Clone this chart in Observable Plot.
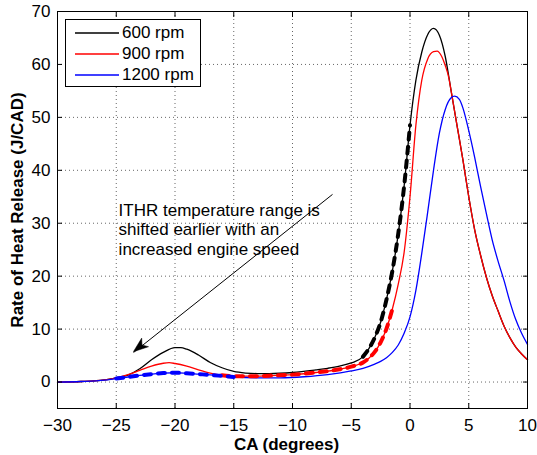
<!DOCTYPE html>
<html>
<head>
<meta charset="utf-8">
<script src="https://cdn.jsdelivr.net/npm/d3@7"></script>
<script src="https://cdn.jsdelivr.net/npm/@observablehq/plot@0.6"></script>
<style>
html,body{margin:0;padding:0;background:#fff;}
#wrap{position:relative;width:537px;height:455px;font-family:"Liberation Sans",Arial,Helvetica,sans-serif;}
#legend{position:absolute;left:65px;top:19px;width:134px;height:66px;border:1px solid #000;background:#fff;}
.lg-row{position:absolute;left:0;width:134px;height:20px;line-height:20px;font-size:17px;color:#000;white-space:nowrap;}
.lg-row svg{position:absolute;left:9px;top:9px;}
.lg-row span{position:absolute;left:56px;top:0;}
</style>
</head>
<body>
<div id="wrap"><div id="legend"></div></div>
<script>
// ---- data ----
const seriesNames = ["600 rpm", "900 rpm", "1200 rpm"];
const seriesColors = ["#000000", "#ff0000", "#0000ff"];

const ca600  = [-30,-28,-26,-25,-24,-23,-22,-21,-20,-19.5,-19,-18,-17,-16,-15,-14,-13,-12,-10,-8,-7,-6,-5,-4,-3.5,-3,-2.5,-2,-1.5,-1,-0.5,0,0.5,1,1.5,2,2.5,3,3.5,4,4.5,5,5.5,6,6.5,7,7.5,8,8.5,9,9.5,10];
const rhr600 = [0,0.1,0.4,0.8,1.3,2.5,4.2,5.6,6.5,6.5,6.2,5.1,3.7,2.7,2.0,1.7,1.6,1.6,1.8,2.3,2.6,3.0,3.6,4.8,6.3,8.4,11.3,15.6,21,28,37,48.5,57,62.3,65.6,66.8,65.5,61.5,55,48.5,42,35,28.8,24,19.8,16.3,13.4,10.6,8.4,6.6,5.3,4.2];

const ca900  = [-30,-28,-26,-25,-24,-23,-22,-21,-20.5,-20,-19,-18,-17,-16,-15,-13,-12,-10,-8,-6,-5,-4,-3.5,-3,-2.5,-2,-1.5,-1,-0.5,0,0.5,1,1.5,2,2.3,2.7,3,3.3,3.5,4,4.5,5,5.5,6,6.5,7,7.5,8,8.5,9,9.5,10];
const rhr900 = [0,0.1,0.4,0.8,1.4,2.2,3.0,3.55,3.65,3.5,3.0,2.3,1.7,1.3,1.1,1.1,1.2,1.4,1.8,2.4,2.9,3.7,4.5,5.7,7.5,10.1,13.8,18.5,24.5,35,48.5,57,61,62.4,62.5,61.5,59.8,57.5,55,48.5,42,35,28.8,24,19.8,16.3,13.4,10.6,8.4,6.6,5.3,4.2];

const ca1200  = [-30,-28,-26,-25,-24,-23,-22,-21,-20,-19,-18,-17,-16,-15,-13,-11,-9,-7,-5,-4,-3,-2.5,-2,-1.5,-1,-0.5,0,0.5,1,1.5,2,2.5,3,3.5,3.8,4.2,4.5,5,5.5,6,6.5,7,7.5,8,8.5,9,9.5,10];
const rhr1200 = [0,0.1,0.35,0.65,0.95,1.25,1.5,1.7,1.75,1.65,1.5,1.35,1.15,0.95,0.8,0.8,1.0,1.4,2.1,2.6,3.4,3.9,4.6,5.6,7.0,9.2,12.3,17.3,24.3,32,40,47,51.5,53.7,54,53.4,51.8,47.5,42.5,37,31.8,26.8,22.8,19.2,15.2,11.8,9.2,7.1];

// ITHR range highlighted (thick dashed) on each curve
const dashFrom = [-4, -16, -25];
const dashTo   = [0, -1.5, -15];

const xTicks = [-30,-25,-20,-15,-10,-5,0,5,10];
const yTicks = [0,10,20,30,40,50,60,70];
const xLabel = "CA (degrees)";
const yLabel = "Rate of Heat Release (J/CAD)";

const noteLines = ["ITHR temperature range is", "shifted earlier with an", "increased engine speed"];
const noteX = [-24.8];
const noteY = [34.1];
const arrowX1 = [-6.62], arrowY1 = [35.4];
const arrowX2 = [-23.5], arrowY2 = [5.63];

// ---- build tables ----
const caAll = [ca600, ca900, ca1200];
const rhrAll = [rhr600, rhr900, rhr1200];
const rows = [];
seriesNames.forEach((name, s) => {
  caAll[s].forEach((x, i) => {
    rows.push({series: name, x, y: rhrAll[s][i], dashed: x >= dashFrom[s] && x <= dashTo[s]});
  });
});
const dashedRows = rows.filter(d => d.dashed);
const notes = [{x: noteX[0], y: noteY[0], text: noteLines.join("\n")}];
const arrows = [{x1: arrowX1[0], y1: arrowY1[0], x2: arrowX2[0], y2: arrowY2[0]}];

const font = "Liberation Sans, Arial, Helvetica, sans-serif";

const chart = Plot.plot({
  width: 537,
  height: 455,
  marginLeft: 57,
  marginRight: 10,
  marginTop: 11,
  marginBottom: 47,
  style: {fontFamily: font, fontSize: "17px", color: "#000", background: "#fff"},
  x: {domain: [-30, 10]},
  y: {domain: [-5, 70]},
  color: {domain: seriesNames, range: seriesColors},
  marks: [
    Plot.gridX(xTicks.slice(1, -1), {stroke: "#000", strokeOpacity: 0.6, strokeDasharray: "1,3"}),
    Plot.gridY(yTicks.slice(0, -1), {stroke: "#000", strokeOpacity: 0.6, strokeDasharray: "1,3"}),
    Plot.line(rows, {x: "x", y: "y", z: "series", stroke: "series", strokeWidth: 1.3, curve: "monotone-x"}),
    Plot.line(dashedRows, {x: "x", y: "y", z: "series", stroke: "series", strokeWidth: 4, strokeDasharray: "7,7", curve: "monotone-x"}),
    Plot.frame({stroke: "#000", strokeWidth: 1}),
    Plot.axisX(xTicks, {anchor: "bottom", tickSize: -5, tickPadding: 15, label: null, fontSize: 17}),
    Plot.axisX(xTicks, {anchor: "top", tickSize: -5, tickFormat: () => "", label: null}),
    Plot.axisY(yTicks, {anchor: "left", tickSize: -5, tickPadding: 12, label: null, fontSize: 17}),
    Plot.axisY(yTicks, {anchor: "right", tickSize: -5, tickFormat: () => "", label: null}),
    Plot.text([xLabel], {frameAnchor: "bottom", dy: 36, dx: -6, fontWeight: "bold", fontSize: 17, lineAnchor: "middle", textAnchor: "middle"}),
    Plot.text([yLabel], {frameAnchor: "left", dx: -40, rotate: -90, fontWeight: "bold", fontSize: 17, textAnchor: "middle", lineAnchor: "middle"}),
    Plot.text(notes, {x: "x", y: "y", text: "text", textAnchor: "start", lineAnchor: "top", lineHeight: 1.16, fontSize: 17}),
    Plot.arrow(arrows, {x1: "x1", y1: "y1", x2: "x2", y2: "y2", stroke: "#000", strokeWidth: 1, headLength: 0})
  ]
});

document.getElementById("wrap").prepend(chart);

// filled notched arrow head (MATLAB style) positioned with the chart's scales
const sx = chart.scale("x"), sy = chart.scale("y");
arrows.forEach(a => {
  const X1 = sx.apply(a.x1), Y1 = sy.apply(a.y1), X2 = sx.apply(a.x2), Y2 = sy.apply(a.y2);
  const len = Math.hypot(X2 - X1, Y2 - Y1);
  const ux = (X2 - X1) / len, uy = (Y2 - Y1) / len;
  const nx = -uy, ny = ux;
  const L = 15, W = 5.5, N = 4;
  const pts = [
    [X2, Y2],
    [X2 - L * ux + W * nx, Y2 - L * uy + W * ny],
    [X2 - (L - N) * ux, Y2 - (L - N) * uy],
    [X2 - L * ux - W * nx, Y2 - L * uy - W * ny]
  ];
  d3.select(chart).append("path")
    .attr("d", "M" + pts.map(p => p.join(",")).join("L") + "Z")
    .attr("fill", "#000").attr("stroke", "#000").attr("stroke-width", 0.5);
});

// legend
const legend = document.getElementById("legend");
const rowCenters = [13, 34, 55];
seriesNames.forEach((name, i) => {
  const row = document.createElement("div");
  row.className = "lg-row";
  row.style.top = (rowCenters[i] - 10) + "px";
  row.innerHTML = `<svg width="44" height="2"><line x1="0" y1="1" x2="44" y2="1" stroke="${seriesColors[i]}" stroke-width="1.3"/></svg><span>${name}</span>`;
  legend.appendChild(row);
});
</script>
</body>
</html>
